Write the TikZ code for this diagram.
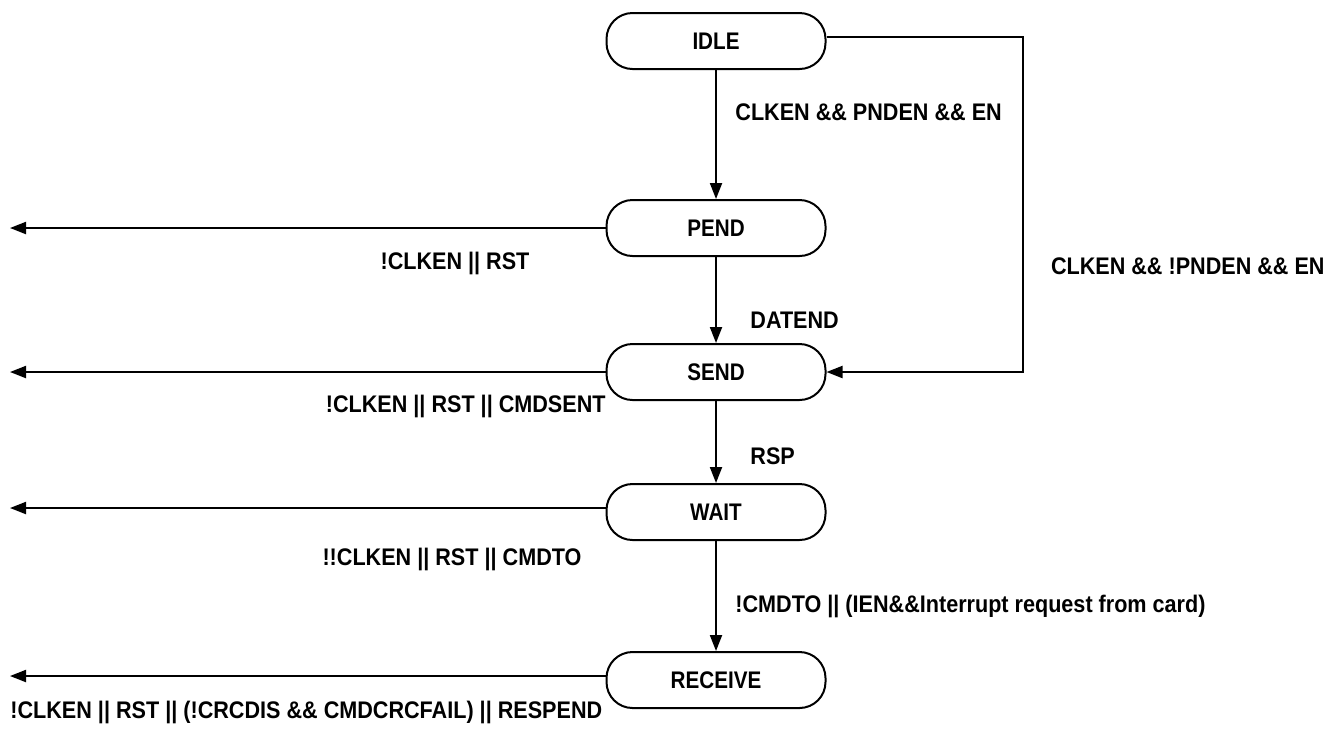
\documentclass[tikz,border=0pt]{standalone}
\usepackage{fontspec}
\setmainfont[FakeStretch=0.86]{Liberation Sans}
\newfontfamily\labfont[FakeStretch=0.9]{Liberation Sans}
\usetikzlibrary{arrows.meta}
\begin{document}
\begin{tikzpicture}[x=0.5pt,y=-0.5pt,
  state/.style={draw,line width=1pt,rounded corners=13pt,minimum width=109.5pt,minimum height=28pt,inner sep=0pt,font=\bfseries\fontsize{12}{14}\selectfont},
  lab/.style={font=\labfont\bfseries\fontsize{12}{14}\selectfont,inner sep=0pt},
  conn/.style={line width=1pt,-{Triangle[length=8pt,width=6pt]}}]
\useasboundingbox (0,0) rectangle (1336,730);
\node[state] (idle) at (716,41) {IDLE};
\node[state] (pend) at (716,228) {PEND};
\node[state] (send) at (716,372) {SEND};
\node[state] (wait) at (716,512) {WAIT};
\node[state] (recv) at (716,680) {RECEIVE};
\coordinate (lp) at (10,228);
\coordinate (ls) at (10,372);
\coordinate (lw) at (10,508);
\coordinate (lr) at (10,676);
\coordinate (rc1) at (1023,37);
\coordinate (rc2) at (1023,372);
\draw[conn] (idle) -- (pend);
\draw[conn] (pend) -- (send);
\draw[conn] (send) -- (wait);
\draw[conn] (wait) -- (recv);
\draw[conn] (idle.east |- rc1) -- (rc1) -- (rc2) -- (send.east);
\draw[conn] (pend.west) -- (lp);
\draw[conn] (send.west) -- (ls);
\draw[conn] ([yshift=2pt]wait.west) -- (lw);
\draw[conn] ([yshift=2pt]recv.west) -- (lr);
\node[lab,anchor=west] (l0) at (735,112) {CLKEN \&\& PNDEN \&\& EN};
\node[lab] (l1) at (455,263) {!CLKEN || RST};
\node[lab,anchor=west] (l2) at (750,320) {DATEND};
\node[lab,anchor=east] (l3) at (1325,266) {CLKEN \&\& !PNDEN \&\& EN};
\node[lab,anchor=east] (l4) at (606,406) {!CLKEN || RST || CMDSENT};
\node[lab,anchor=west] (l5) at (750,456) {RSP};
\node[lab] (l6) at (452,559) {!!CLKEN || RST || CMDTO};
\node[lab,anchor=west] (l7) at (735,606) {!CMDTO || (IEN\&\&Interrupt request from card)};
\node[lab,anchor=west] (l8) at (10,712) {!CLKEN || RST || (!CRCDIS \&\& CMDCRCFAIL) || RESPEND};
\end{tikzpicture}
\end{document}
